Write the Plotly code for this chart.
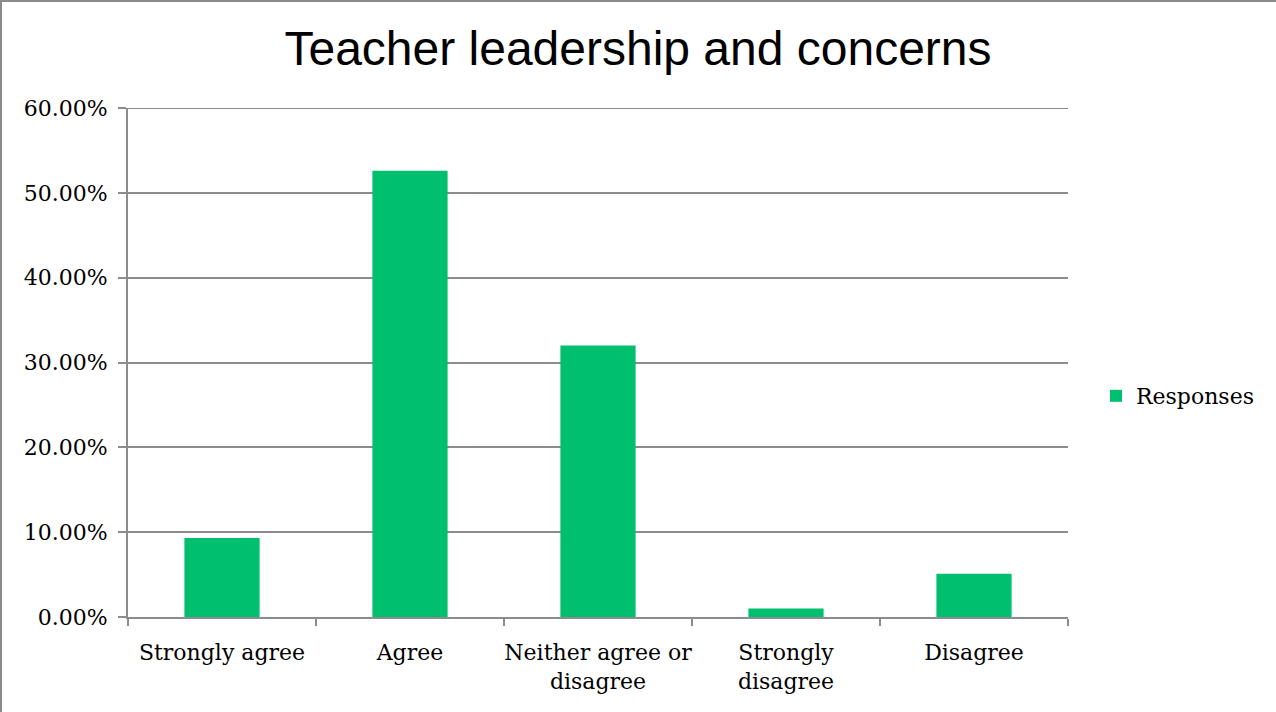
import plotly.graph_objects as go

# Survey response shares (percent)
categories = ["Strongly agree", "Agree", "Neither agree or<br>disagree", "Strongly<br>disagree", "Disagree"]
responses = [9.3, 52.6, 32.0, 1.0, 5.1]
y_ticks = [0, 10, 20, 30, 40, 50, 60]
y_tick_labels = ["0.00%", "10.00%", "20.00%", "30.00%", "40.00%", "50.00%", "60.00%"]

W, H = 1276, 712
ML, MR, MT, MB = 128, 208, 108, 95
PW, PH = W - ML - MR, H - MT - MB

serif = "DejaVu Serif"
grid_col = "#8c8c8c"

fig = go.Figure()
fig.add_trace(go.Bar(
    x=categories, y=responses, name="Responses",
    marker=dict(color="#00bf6f", line=dict(width=0)),
    showlegend=True,
))

fig.update_layout(
    width=W, height=H,
    margin=dict(l=ML, r=MR, t=MT, b=MB, pad=0, autoexpand=False),
    paper_bgcolor="white", plot_bgcolor="white",
    bargap=0.6,
    title=dict(text="Teacher leadership and concerns", x=0.5, xref="container", xanchor="center",
               y=1 - 48 / H, yanchor="middle",
               font=dict(family="Liberation Sans", size=48, color="black")),
    legend=dict(x=(1096 - ML) / PW, y=(617 - 396) / PH, xanchor="left", yanchor="middle",
                font=dict(family=serif, size=22, color="black"),
                itemwidth=30, bgcolor="rgba(0,0,0,0)"),
    font=dict(family=serif, size=22, color="black"),
)

fig.update_xaxes(
    type="category", showgrid=False, showline=True, linecolor=grid_col, linewidth=2,
    ticks="outside", tickson="boundaries", ticklen=7, tickcolor=grid_col, tickwidth=2,
    tickfont=dict(family=serif, size=22, color="black"),
    tickangle=0, automargin=False,
    ticklabelstandoff=15,
)
fig.update_yaxes(
    range=[0, 60], tickvals=y_ticks, ticktext=y_tick_labels,
    showgrid=True, gridcolor=grid_col, gridwidth=2,
    showline=True, linecolor=grid_col, linewidth=2,
    ticks="outside", ticklen=8, tickcolor=grid_col, tickwidth=2,
    tickfont=dict(family=serif, size=22, color="black"),
    ticklabelstandoff=6, automargin=False,
    zeroline=False,
)

# top gridline sits on the plot edge, so draw it explicitly
fig.add_shape(type="line", xref="paper", yref="y", x0=0, x1=1, y0=y_ticks[-1], y1=y_ticks[-1],
              line=dict(color=grid_col, width=2))

# chart border on the top and left edges
fig.add_shape(type="line", xref="paper", yref="paper",
              x0=(0.5 - ML) / PW, x1=(W - ML) / PW, y0=1 + (MT - 1) / PH, y1=1 + (MT - 1) / PH,
              line=dict(color="#8a8a8a", width=2))
fig.add_shape(type="line", xref="paper", yref="paper",
              x0=(1 - ML) / PW, x1=(1 - ML) / PW, y0=-MB / PH, y1=1 + MT / PH,
              line=dict(color="#8a8a8a", width=2))

fig.write_html("out.html")
